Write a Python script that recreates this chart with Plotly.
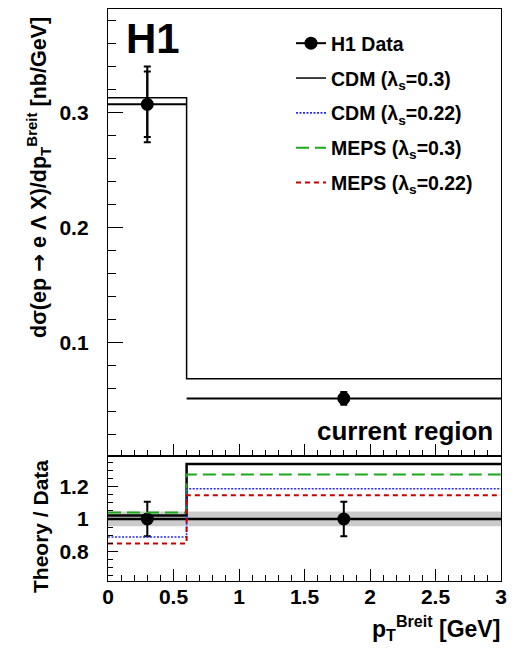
import plotly.graph_objects as go

FONT = "Liberation Sans, Arial, Helvetica, sans-serif"

# Binning in p_T^Breit [GeV]
bin_edges = [0.0, 0.6, 3.0]
bin_centres = [0.3, 1.8]
bin_halfwidths = [0.3, 1.2]

# Measured cross section [nb/GeV] with statistical and total uncertainties
data_xsec = [0.3073, 0.0516]
data_stat = [0.0285, 0.0040]
data_tot = [0.0330, 0.0055]

# CDM prediction (lambda_s = 0.3)
cdm_030_xsec = [0.3130, 0.0687]

# Theory / Data ratios
ratio_cdm_030 = [1.022, 1.341]
ratio_cdm_022 = [0.888, 1.188]
ratio_meps_030 = [1.040, 1.277]
ratio_meps_022 = [0.848, 1.147]

# Normalisation uncertainty band around unity
norm_band = [0.955, 1.047]

GREEN = "#1ca81c"
BLUE = "#2a2af0"
RED = "#c80000"


def step(values):
    return dict(x=bin_edges, y=list(values) + [values[-1]], mode="lines", line_shape="hv")


fig = go.Figure()

# ---------------- upper panel ----------------
fig.add_trace(go.Scatter(**step(cdm_030_xsec), xaxis="x", yaxis="y",
                         line=dict(color="black", width=1.5),
                         name="CDM (λ<sub>s</sub>=0.3)", legendgroup="g2", legendrank=2))

fig.add_trace(go.Scatter(x=bin_centres, y=data_xsec, xaxis="x", yaxis="y", mode="markers",
                         marker=dict(color="black", size=1),
                         error_y=dict(type="data", array=data_stat, color="black", thickness=2, width=3.5),
                         showlegend=False, hoverinfo="skip"))
fig.add_trace(go.Scatter(x=bin_centres, y=data_xsec, xaxis="x", yaxis="y", mode="markers",
                         marker=dict(color="black", size=13),
                         error_y=dict(type="data", array=data_tot, color="black", thickness=2, width=3.5),
                         error_x=dict(type="data", array=bin_halfwidths, color="black", thickness=2, width=0),
                         showlegend=False))

# legend entry for the data
fig.add_trace(go.Scatter(x=[None], y=[None], xaxis="x", yaxis="y", mode="lines+markers",
                         marker=dict(color="black", size=13), line=dict(color="black", width=2),
                         name="H1 Data", legendgroup="g1", legendrank=1))

# ---------------- ratio panel ----------------
fig.add_trace(go.Scatter(x=[bin_edges[0], bin_edges[-1], bin_edges[-1], bin_edges[0], bin_edges[0]],
                         y=[norm_band[0], norm_band[0], norm_band[1], norm_band[1], norm_band[0]],
                         xaxis="x2", yaxis="y2", mode="lines", fill="toself",
                         fillcolor="#cbcbcb", line=dict(width=0), showlegend=False, hoverinfo="skip"))

ratio_data = [d / d for d in data_xsec]
ratio_err = [e / d for e, d in zip(data_tot, data_xsec)]
fig.add_trace(go.Scatter(x=bin_centres, y=ratio_data, xaxis="x2", yaxis="y2", mode="markers",
                         marker=dict(color="black", size=13),
                         error_y=dict(type="data", array=ratio_err, color="black", thickness=2, width=3.5),
                         error_x=dict(type="data", array=bin_halfwidths, color="black", thickness=2.5, width=0),
                         showlegend=False))

fig.add_trace(go.Scatter(**step(ratio_cdm_030), xaxis="x2", yaxis="y2",
                         line=dict(color="black", width=2.5), showlegend=False))
fig.add_trace(go.Scatter(**step(ratio_meps_030), xaxis="x2", yaxis="y2",
                         line=dict(color=GREEN, width=2, dash="13px,6px"),
                         name="MEPS (λ<sub>s</sub>=0.3)", legendgroup="g4", legendrank=4))
fig.add_trace(go.Scatter(**step(ratio_cdm_022), xaxis="x2", yaxis="y2",
                         line=dict(color=BLUE, width=1.6, dash="2px,1.5px"),
                         name="CDM (λ<sub>s</sub>=0.22)", legendgroup="g3", legendrank=3))
fig.add_trace(go.Scatter(**step(ratio_meps_022), xaxis="x2", yaxis="y2",
                         line=dict(color=RED, width=2, dash="5px,4px"),
                         name="MEPS (λ<sub>s</sub>=0.22)", legendgroup="g5", legendrank=5))

axis_common = dict(showline=True, mirror=True, linecolor="black", linewidth=1.3,
                   showgrid=False, zeroline=False, ticks="inside", tickcolor="black",
                   tickwidth=1.3)

fig.update_layout(
    width=515, height=651,
    margin=dict(l=108, r=14, t=9, b=70),
    paper_bgcolor="white", plot_bgcolor="white",
    font=dict(family=FONT, size=21, color="black", weight="bold"),
    legend=dict(x=(291 - 108) / 393, y=(581 - 24) / 572, xanchor="left", yanchor="top",
                bgcolor="rgba(0,0,0,0)", font=dict(family=FONT, size=19.5, weight="bold"),
                tracegroupgap=6.5, itemwidth=30, traceorder="grouped"),
    xaxis=dict(axis_common, domain=[0, 1], range=[0, 3], anchor="y", showticklabels=False,
               dtick=0.5, tick0=0, ticklen=12,
               minor=dict(dtick=0.1, ticklen=6, ticks="inside", tickcolor="black", tickwidth=1.1)),
    yaxis=dict(axis_common, domain=[0.2185, 1], range=[0.0015, 0.3902], anchor="x",
               dtick=0.1, tick0=0, ticklen=15, ticklabelstandoff=14,
               tickfont=dict(size=21, weight="bold"),
               minor=dict(dtick=0.02, ticklen=8, ticks="inside", tickcolor="black", tickwidth=1.1)),
    xaxis2=dict(axis_common, domain=[0, 1], range=[0, 3], anchor="y2",
                dtick=0.5, tick0=0, ticklen=12, ticklabelstandoff=-3,
                tickfont=dict(size=21, weight="bold"),
                minor=dict(dtick=0.1, ticklen=6, ticks="inside", tickcolor="black", tickwidth=1.1)),
    yaxis2=dict(axis_common, domain=[0, 0.2185], range=[0.615, 1.391], anchor="x2",
                dtick=0.2, tick0=0, ticklen=10, ticklabelstandoff=14,
                tickfont=dict(size=21, weight="bold"),
                minor=dict(dtick=0.05, ticklen=5, ticks="inside", tickcolor="black", tickwidth=1.1)),
)

annotations = [
    dict(text="H1", x=(153 - 108) / 393, y=(581 - 38) / 572, xanchor="center", yanchor="middle",
         font=dict(size=42, weight="bold")),
    dict(text="current region", x=(495 - 108) / 393, y=(581 - 431) / 572, xanchor="right",
         yanchor="middle", font=dict(size=26, weight="bold")),
    dict(text="dσ(ep <span style='font-family:DejaVu Sans'>→</span> e Λ X)/dp<sub>T</sub><sup>Breit</sup> [nb/GeV]",
         x=(39 - 108) / 393, y=(581 - 178) / 572, xanchor="center", yanchor="middle",
         textangle=-90, font=dict(size=21.5, weight="bold")),
    dict(text="Theory / Data", x=(40 - 108) / 393, y=(581 - 527) / 572, xanchor="center",
         yanchor="middle", textangle=-90, font=dict(size=21, weight="bold")),
    dict(text="p<sub>T</sub><sup>Breit</sup> [GeV]", x=(502 - 108) / 393, y=(581 - 628) / 572,
         xanchor="right", yanchor="middle", font=dict(size=23, weight="bold")),
]
for a in annotations:
    a.update(xref="paper", yref="paper", showarrow=False)
fig.update_layout(annotations=annotations)

fig.write_html("out.html")
